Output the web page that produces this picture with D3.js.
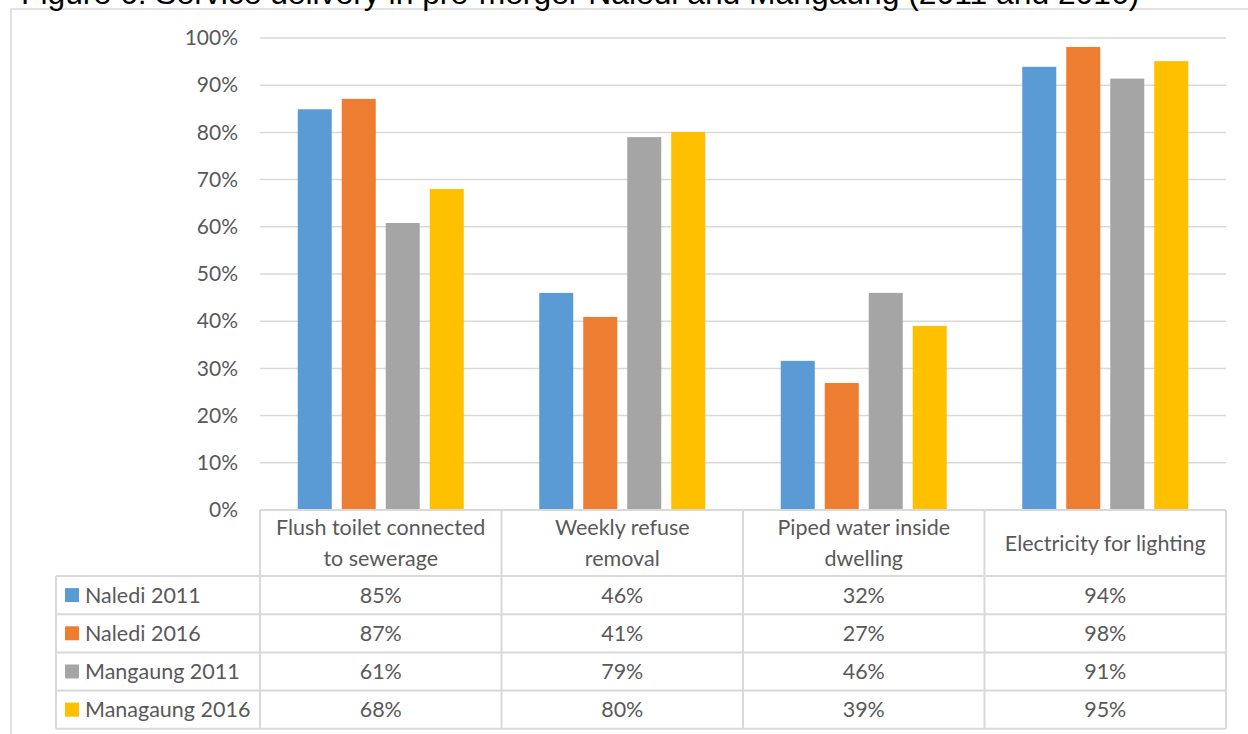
<!DOCTYPE html>
<html>
<head>
<meta charset="utf-8">
<script src="https://cdn.jsdelivr.net/npm/d3@7"></script>
<style>
  body { margin: 0; background: #fff; }
  svg text { font-family: Lato, "Open Sans", sans-serif; fill: #595959; }
</style>
</head>
<body>
<div id="chart"></div>
<script>
// chart data
const title = "Figure 6: Service delivery in pre-merger Naledi and Mangaung (2011 and 2016)";
const categories = [
  ["Flush toilet connected", "to sewerage"],
  ["Weekly refuse", "removal"],
  ["Piped water inside", "dwelling"],
  ["Electricity for lighting"],
];
const seriesNames = ["Naledi 2011", "Naledi 2016", "Mangaung 2011", "Managaung 2016"];
const naledi2011 = [0.849, 0.46, 0.316, 0.939];
const naledi2016 = [0.871, 0.409, 0.269, 0.981];
const mangaung2011 = [0.608, 0.79, 0.46, 0.914];
const mangaung2016 = [0.68, 0.801, 0.39, 0.951];
const yTicks = [0, 0.1, 0.2, 0.3, 0.4, 0.5, 0.6, 0.7, 0.8, 0.9, 1];

const seriesValues = [naledi2011, naledi2016, mangaung2011, mangaung2016];
const colors = ["#5B9BD5", "#ED7D31", "#A5A5A5", "#FFC000"];

let opts = {
  width: 1248,
  height: 734,
  plot_left: 260,
  plot_right: 1226,
  plot_top: 38,
  plot_bottom: 510,
  header_bottom: 576,
  row_height: 38.2,
  legend_left: 56,
  grid_color: "#d9d9d9",
  font_size: 21.5,
};

let svg = d3
  .select("#chart")
  .append("svg")
  .attr("width", opts.width)
  .attr("height", opts.height);

// outer frame (mostly cropped in the original)
svg.append("path")
  .attr("d", `M11,${opts.height} L11,9 L${opts.width},9`)
  .attr("fill", "none")
  .attr("stroke", opts.grid_color)
  .attr("stroke-width", 1.5);

// title, cut off at the top edge like in the source image
svg.append("text")
  .attr("x", 21)
  .attr("y", 4)
  .style("font-family", "'Liberation Sans', Arial, sans-serif")
  .style("font-size", "31.8px")
  .style("fill", "#000")
  .text(title);

let x = d3
  .scaleBand()
  .domain(d3.range(categories.length))
  .range([opts.plot_left, opts.plot_right]);

let xInner = d3
  .scaleBand()
  .domain(d3.range(seriesNames.length))
  .range([0, x.bandwidth()])
  .paddingInner(0.227)
  .paddingOuter(0.858);

let y = d3
  .scaleLinear()
  .domain([0, 1])
  .range([opts.plot_bottom, opts.plot_top]);

// gridlines
svg.append("g")
  .selectAll("line")
  .data(yTicks.filter((d) => d > 0))
  .join("line")
  .attr("x1", opts.plot_left)
  .attr("x2", opts.plot_right)
  .attr("y1", (d) => y(d))
  .attr("y2", (d) => y(d))
  .attr("stroke", opts.grid_color)
  .attr("stroke-width", 1.5);

// y axis labels
let yAxis = svg.append("g")
  .attr("transform", `translate(${opts.plot_left - 8},0)`)
  .call(d3.axisLeft(y).tickValues(yTicks).tickFormat(d3.format(".0%")).tickSize(0).tickPadding(14));
yAxis.select(".domain").remove();
yAxis.selectAll("text")
  .attr("fill", "#595959")
  .style("font-size", "21px")
  .style("font-family", "Lato, sans-serif");

// bars
let groups = svg.append("g")
  .selectAll("g")
  .data(seriesNames)
  .join("g")
  .attr("fill", (d, i) => colors[i]);

groups
  .selectAll("rect")
  .data((d, i) => seriesValues[i].map((v, c) => ({ s: i, c: c, v: v })))
  .join("rect")
  .attr("x", (d) => x(d.c) + xInner(d.s))
  .attr("y", (d) => y(d.v))
  .attr("width", xInner.bandwidth())
  .attr("height", (d) => y(0) - y(d.v));

// data table
let table = svg.append("g");
let rowY = (r) => opts.header_bottom + r * opts.row_height;
let tableBottom = rowY(seriesNames.length);

// horizontal lines
table.append("line")
  .attr("x1", opts.plot_left).attr("x2", opts.plot_right)
  .attr("y1", opts.plot_bottom).attr("y2", opts.plot_bottom);
d3.range(seriesNames.length + 1).forEach((r) => {
  table.append("line")
    .attr("x1", opts.legend_left).attr("x2", opts.plot_right)
    .attr("y1", rowY(r)).attr("y2", rowY(r));
});
// vertical lines
table.append("line")
  .attr("x1", opts.legend_left).attr("x2", opts.legend_left)
  .attr("y1", rowY(0)).attr("y2", tableBottom);
d3.range(categories.length + 1).forEach((c) => {
  let xx = c < categories.length ? x(c) : opts.plot_right;
  table.append("line")
    .attr("x1", xx).attr("x2", xx)
    .attr("y1", opts.plot_bottom).attr("y2", tableBottom);
});
table.selectAll("line")
  .attr("stroke", opts.grid_color)
  .attr("stroke-width", 2);

// category headers
categories.forEach((lines, c) => {
  let cx = x(c) + x.bandwidth() / 2;
  let mid = (opts.plot_bottom + opts.header_bottom) / 2;
  let lh = 31;
  lines.forEach((ln, k) => {
    table.append("text")
      .attr("x", cx)
      .attr("y", mid + (k - (lines.length - 1) / 2) * lh)
      .attr("dy", "0.35em")
      .attr("text-anchor", "middle")
      .style("font-size", opts.font_size + "px")
      .text(ln);
  });
});

// legend keys + values
seriesNames.forEach((name, r) => {
  let cy = rowY(r) + opts.row_height / 2;
  table.append("rect")
    .attr("x", 65)
    .attr("y", cy - 7)
    .attr("width", 14)
    .attr("height", 14)
    .attr("fill", colors[r]);
  table.append("text")
    .attr("x", 85)
    .attr("y", cy)
    .attr("dy", "0.35em")
    .style("font-size", opts.font_size + "px")
    .text(name);
  seriesValues[r].forEach((v, c) => {
    table.append("text")
      .attr("x", x(c) + x.bandwidth() / 2)
      .attr("y", cy)
      .attr("dy", "0.35em")
      .attr("text-anchor", "middle")
      .style("font-size", opts.font_size + "px")
      .text(d3.format(".0%")(v));
  });
});
</script>
</body>
</html>
